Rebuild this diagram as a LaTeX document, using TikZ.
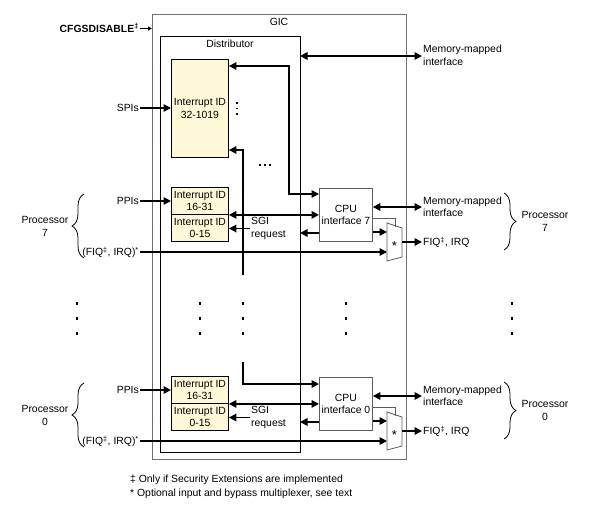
\documentclass[tikz,border=0pt]{standalone}
\usepackage{fontspec}
\setmainfont{Liberation Sans}
\usetikzlibrary{arrows.meta,decorations.pathreplacing,calc}
\definecolor{idfill}{HTML}{FFF8D8}
\definecolor{gicgray}{HTML}{707070}
\definecolor{cpugray}{HTML}{5C5C5C}
\begin{document}
\begin{tikzpicture}[x=1pt,y=-1pt,
  font=\fontsize{10.4}{12.5}\selectfont,
  box/.style={draw, inner sep=0pt, anchor=north west, align=center},
  gicbox/.style={box, draw=gicgray, line width=1.2pt},
  distbox/.style={box, draw=black, line width=0.9pt},
  idbox/.style={box, fill=idfill, draw=black, line width=0.9pt},
  cpubox/.style={box, draw=cpugray, line width=0.9pt},
  lbl/.style={inner sep=1pt},
  one/.style={lbl, text height=7.5pt, text depth=0pt},
  two/.style={lbl, align=center},
  arr/.style={line width=1.7pt, -{Triangle[length=7.5pt,width=7.5pt]}},
  darr/.style={line width=1.7pt, {Triangle[length=7.5pt,width=7.5pt]}-{Triangle[length=7.5pt,width=7.5pt]}},
  thinarr/.style={line width=0.8pt, -{Triangle[length=4pt,width=4pt]}},
  sel/.style={draw=cpugray, line width=0.7pt},
  muxline/.style={draw=cpugray, line width=0.8pt},
  bracestyle/.style={decorate, decoration={brace, amplitude=12pt}, line width=0.8pt},
  dotmark/.style={fill=black}
]
\useasboundingbox (0,0) rectangle (599,508);

% main boxes
\node[gicbox, minimum width=254pt, minimum height=445pt] (gic) at (152,14) {};
\node[distbox, minimum width=140pt, minimum height=416pt] (dist) at (160,36) {};
\node[one] (giclbl) at (279,21.5) {GIC};
\node[one] (distlbl) at (230,44) {Distributor};

% CFGSDISABLE
\node[one, anchor=east, font=\fontsize{10.4}{12.5}\selectfont\bfseries] (cfg) at (140,28.5) {CFGSDISABLE\textsuperscript{‡}};
\draw[thinarr] (cfg.east) -- (cfg.east -| gic.west);

% SPI block
\node[idbox, minimum width=57pt, minimum height=98pt] (id32) at (171,59) {Interrupt ID\\32-1019};
\node[one, anchor=east] (spi) at (140,108) {SPIs};
\draw[arr] (spi.east) -- (spi.east -| id32.west);

% top memory-mapped interface
\node[two, anchor=west, align=left] (mmtop) at (422,55.5) {Memory-mapped\\interface};
\coordinate (mmtopa) at (300,56);
\draw[darr] (mmtopa) -- (mmtopa -| mmtop.west);

% small dots
\foreach \yy in {103,108.5,114} \fill[dotmark] (236,\yy-0.9) rectangle (238,\yy+0.9);
\foreach \xx in {260,265,270} \fill[dotmark] (\xx-0.9,164.1) rectangle (\xx+0.9,165.9);

% big dots
\foreach \xx in {77,200,243,346,512}
  \foreach \yy in {303,318,333}
    \fill[dotmark] (\xx-1,\yy-1.5) rectangle (\xx+1,\yy+1.5);

% processor sections
\foreach \p/\o in {7/0,0/189}{
  \node[idbox, minimum width=57pt, minimum height=27pt] (ida\p) at (171,{187+\o}) {Interrupt ID\\16-31};
  \node[idbox, minimum width=57pt, minimum height=27pt] (idb\p) at (171,{214+\o}) {Interrupt ID\\0-15};
  \node[cpubox, minimum width=53pt, minimum height=53pt] (cpu\p) at (319,{188+\o}) {CPU\\interface \p};
  \node[one, anchor=east] (ppi\p) at (140,{201+\o}) {PPIs};
  \node[one, anchor=east] (fiqin\p) at (140,{252+\o}) {(FIQ\textsuperscript{‡}, IRQ)\textsuperscript{*}};
  \node[two, anchor=west, align=left] (sgi\p) at (250,{228.5+\o}) {SGI\\request};
  \node[two, anchor=west, align=left] (mm\p) at (422,{207+\o}) {Memory-mapped\\interface};
  \node[one, anchor=west] (fiqout\p) at (422,{242+\o}) {FIQ\textsuperscript{‡}, IRQ};
  \node[two] (pl\p) at (45,{226.5+\o}) {Processor\\\p};
  \node[two] (pr\p) at (545,{221.5+\o}) {Processor\\\p};
  % multiplexer
  \draw[muxline] (387,{223+\o}) coordinate (muxa\p) -- (402,{228+\o}) -- (402,{257+\o}) -- (387,{261+\o}) -- cycle;
  \node[inner sep=0pt, font=\fontsize{13}{13}\selectfont] (star\p) at (394.5,{246+\o}) {*};
  \coordinate (muxo\p) at (402,{242+\o});
  \coordinate (muxi\p) at (387,{232+\o});
  \coordinate (distr\p) at (300,{233+\o});
  \coordinate (selh\p) at (395,{218+\o});
  \coordinate (selv\p) at (395,{226.5+\o});
  % connectors
  \draw[arr] (ppi\p.east) -- (ppi\p.east -| ida\p.west);
  \draw[darr] (ida\p.south east) -- (ida\p.south east -| cpu\p.west);
  \draw[arr] (sgi\p.west) -- (sgi\p.west -| idb\p.east);
  \draw[arr] (cpu\p.west |- distr\p) -- (distr\p);
  \draw[arr] (cpu\p.east |- muxi\p) -- (muxi\p);
  \draw[arr] (fiqin\p.east) -- (fiqin\p.east -| muxa\p);
  \draw[sel] (cpu\p.east |- selh\p) -- (selh\p) -- (selv\p);
  \draw[arr] (muxo\p) -- (fiqout\p.west);
  \draw[darr] (cpu\p.east |- mm\p.west) -- (mm\p.west);
  \draw[bracestyle] (84,{258+\o}) -- (84,{194+\o});
  \draw[bracestyle] (504,{193+\o}) -- (504,{250+\o});
}

% distributor to CPU interface links
\coordinate (jtop) at (289,66);
\coordinate (jtopb) at (289,194);
\draw[darr] (id32.east |- jtop) -- (jtop) -- (jtopb) -- (cpu7.west |- jtopb);
\coordinate (vlow) at (243,275);
\coordinate (vlowt) at (243,150);
\draw[arr] (vlow) -- (vlowt) -- (id32.east |- vlowt);
\coordinate (vzero) at (243,362);
\coordinate (vzerob) at (243,384);
\draw[arr] (vzero) -- (vzerob) -- (cpu0.west |- vzerob);

% footnotes
\node[one, anchor=west] (fn1) at (129,479) {‡ Only if Security Extensions are implemented};
\node[one, anchor=west] (fn2) at (129,493) {* Optional input and bypass multiplexer, see text};
\end{tikzpicture}
\end{document}
